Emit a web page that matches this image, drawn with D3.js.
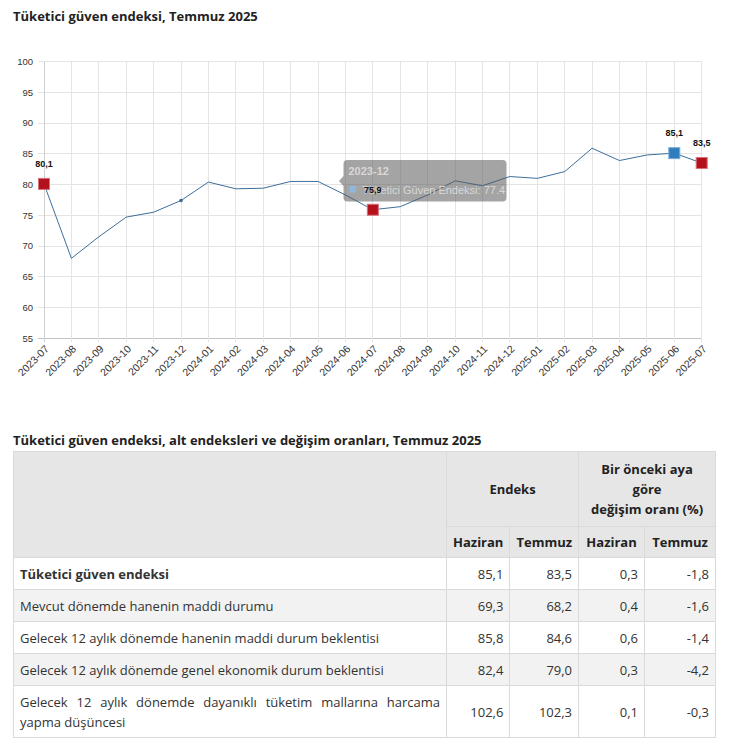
<!DOCTYPE html>
<html>
<head>
<meta charset="utf-8">
<script src="https://cdn.jsdelivr.net/npm/d3@7"></script>
<style>
  body { margin: 0; background: #fff; font-family: "Open Sans", sans-serif; color: #333; }
  #wrap { position: relative; width: 734px; height: 743px; overflow: hidden; }
  svg { position: absolute; left: 0; top: 0; }
  .ttl { position: absolute; left: 13px; font-weight: 700; font-size: 13px; color: #222; white-space: nowrap; }
  table { position: absolute; left: 13px; top: 451px; border-collapse: collapse; table-layout: fixed; font-size: 13px; }
  td, th { border: 1px solid #dadada; padding: 0 6px; line-height: 20px; }
  th { background: #e6e6e6; font-weight: 700; color: #222; text-align: center; }
  td.lbl { text-align: justify; }
  td.num { text-align: right; }
  tr.alt td { background: #f2f2f2; }
</style>
</head>
<body>
<div id="wrap"></div>
<script>
// chart data
var months = ["2023-07","2023-08","2023-09","2023-10","2023-11","2023-12","2024-01","2024-02","2024-03",
  "2024-04","2024-05","2024-06","2024-07","2024-08","2024-09","2024-10","2024-11","2024-12",
  "2025-01","2025-02","2025-03","2025-04","2025-05","2025-06","2025-07"];
var values = [80.1, 68.0, 71.5, 74.7, 75.5, 77.4, 80.4, 79.3, 79.4, 80.5, 80.5, 78.3, 75.9,
  76.4, 78.3, 80.6, 79.8, 81.3, 81.0, 82.1, 85.9, 83.9, 84.8, 85.1, 83.5];
var yTicks = [55, 60, 65, 70, 75, 80, 85, 90, 95, 100];
var redMonths = ["2023-07", "2024-07", "2025-07"];
var blueMonths = ["2025-06"];
var seriesName = "Tüketici Güven Endeksi";
var tooltipMonth = "2023-12";

// table data
var rowLabels = ["Tüketici güven endeksi",
  "Mevcut dönemde hanenin maddi durumu",
  "Gelecek 12 aylık dönemde hanenin maddi durum beklentisi",
  "Gelecek 12 aylık dönemde genel ekonomik durum beklentisi",
  "Gelecek 12 aylık dönemde dayanıklı tüketim mallarına harcama yapma düşüncesi"];
var endeksHaziran = [85.1, 69.3, 85.8, 82.4, 102.6];
var endeksTemmuz = [83.5, 68.2, 84.6, 79.0, 102.3];
var degisimHaziran = [0.3, 0.4, 0.6, 0.3, 0.1];
var degisimTemmuz = [-1.8, -1.6, -1.4, -4.2, -0.3];
var groupHeaders = [["Endeks"], ["Bir önceki aya", "göre", "değişim oranı (%)"]];
var subHeaders = ["Haziran", "Temmuz", "Haziran", "Temmuz"];

var tr = d3.formatLocale({decimal: ",", thousands: ".", grouping: [3], currency: ["", ""], minus: "-"});
var fmt = tr.format(".1f");

var wrap = d3.select("#wrap");

var svg = wrap.append("svg")
    .attr("width", 734)
    .attr("height", 420);

svg.append("text")
    .attr("x", 13).attr("y", 21)
    .attr("font-family", "Open Sans")
    .attr("font-weight", 700)
    .attr("font-size", 13)
    .attr("fill", "#222")
    .text("Tüketici güven endeksi, Temmuz 2025");

var x = d3.scalePoint().domain(months).range([44, 701.7]);
var y = d3.scaleLinear().domain([55, 100]).range([338.3, 61.5]);

// grid
svg.append("g").selectAll("line").data(yTicks).join("line")
    .attr("x1", 38).attr("x2", 701.7)
    .attr("y1", d => y(d)).attr("y2", d => y(d))
    .attr("stroke", d => d == 55 ? "#c4c4c4" : "#e4e4e4")
    .attr("shape-rendering", "crispEdges");

svg.append("g").selectAll("line").data(months).join("line")
    .attr("x1", d => x(d)).attr("x2", d => x(d))
    .attr("y1", y(100)).attr("y2", y(55) + 4)
    .attr("stroke", (d, i) => i == 0 ? "#d0d0d0" : "#e4e4e4")
    .attr("shape-rendering", "crispEdges");

svg.append("g").selectAll("text").data(yTicks).join("text")
    .attr("x", 33).attr("y", d => y(d))
    .attr("dy", "0.35em")
    .attr("text-anchor", "end")
    .attr("font-family", "Liberation Sans")
    .attr("font-size", 9.5)
    .attr("fill", "#333")
    .text(d => d);

svg.append("g").selectAll("text").data(months).join("text")
    .attr("transform", d => "translate(" + (x(d) + 3) + ",347) rotate(-45)")
    .attr("dy", "0.35em")
    .attr("text-anchor", "end")
    .attr("font-family", "Liberation Sans")
    .attr("font-size", 10.5)
    .attr("fill", "#333")
    .text(d => d);

// line
svg.append("path")
    .datum(values)
    .attr("fill", "none")
    .attr("stroke", "#3d6f9c")
    .attr("stroke-width", 1)
    .attr("d", d3.line().x((d, i) => x(months[i])).y(d => y(d)));

var ti = months.indexOf(tooltipMonth);
svg.append("circle")
    .attr("cx", x(tooltipMonth)).attr("cy", y(values[ti]))
    .attr("r", 1.8)
    .attr("fill", "#3d6f9c");

// markers
var marks = months.map((m, i) => ({m: m, v: values[i]}))
    .filter(d => redMonths.includes(d.m) || blueMonths.includes(d.m));

svg.append("g").selectAll("rect").data(marks).join("rect")
    .attr("x", d => x(d.m) - 5.5).attr("y", d => y(d.v) - 5.5)
    .attr("width", 11).attr("height", 11)
    .attr("fill", d => redMonths.includes(d.m) ? "#b3121c" : "#2f7dbd")
    .attr("stroke", d => redMonths.includes(d.m) ? "#d9707a" : "#79acd8")
    .attr("stroke-width", 1);

// tooltip
var tip = svg.append("g").attr("transform", "translate(343.5,160)");
tip.append("path")
    .attr("d", "M4,0 H159 Q163,0 163,4 V37.5 Q163,41.5 159,41.5 H4 Q0,41.5 0,37.5 V26 L-4.5,21 L0,16 V4 Q0,0 4,0 Z")
    .attr("fill", "rgba(90,90,90,0.55)");
tip.append("text")
    .attr("x", 5).attr("y", 15)
    .attr("font-family", "Liberation Sans")
    .attr("font-weight", 700)
    .attr("font-size", 11)
    .attr("fill", "#d8d8d8")
    .text(tooltipMonth);
tip.append("rect")
    .attr("x", 6).attr("y", 26).attr("width", 6.5).attr("height", 6.5)
    .attr("fill", "#8fb8df");
tip.append("text")
    .attr("x", 18.5).attr("y", 33.5)
    .attr("font-family", "Liberation Sans")
    .attr("font-size", 11)
    .attr("fill", "#d8d8d8")
    .text(seriesName + ": " + values[ti]);

// value labels
svg.append("g").selectAll("text").data(marks).join("text")
    .attr("x", d => x(d.m)).attr("y", d => y(d.v) - 17)
    .attr("text-anchor", "middle")
    .attr("font-family", "Liberation Sans")
    .attr("font-weight", 700)
    .attr("font-size", 9)
    .attr("fill", "#111")
    .text(d => fmt(d.v));

// table
wrap.append("div")
    .attr("class", "ttl")
    .style("top", "431px")
    .text("Tüketici güven endeksi, alt endeksleri ve değişim oranları, Temmuz 2025");

var table = wrap.append("table");
var colW = [433, 62, 67, 66, 71];
table.append("colgroup").selectAll("col").data(colW).join("col")
    .style("width", d => d + "px");

var thead = table.append("thead");
var h1 = thead.append("tr").style("height", "75px");
h1.append("th").attr("rowspan", 2);
h1.selectAll("th.g").data(groupHeaders).join("th")
    .attr("class", "g")
    .attr("colspan", 2)
    .html(d => d.join("<br>"));
var h2 = thead.append("tr").style("height", "31px");
h2.selectAll("th").data(subHeaders).join("th").text(d => d);

var rows = rowLabels.map((l, i) => [l, endeksHaziran[i], endeksTemmuz[i], degisimHaziran[i], degisimTemmuz[i]]);
var tbody = table.append("tbody");
var trs = tbody.selectAll("tr").data(rows).join("tr")
    .attr("class", (d, i) => i % 2 ? "alt" : null)
    .style("height", (d, i) => i == rows.length - 1 ? "52px" : "32px");
trs.selectAll("td").data(d => d).join("td")
    .attr("class", (d, j) => j == 0 ? "lbl" : "num")
    .style("font-weight", function (d, j) {
        return j == 0 && this.parentNode.__data__ === rows[0] ? 700 : null;
    })
    .text((d, j) => j == 0 ? d : fmt(d));
</script>
</body>
</html>
